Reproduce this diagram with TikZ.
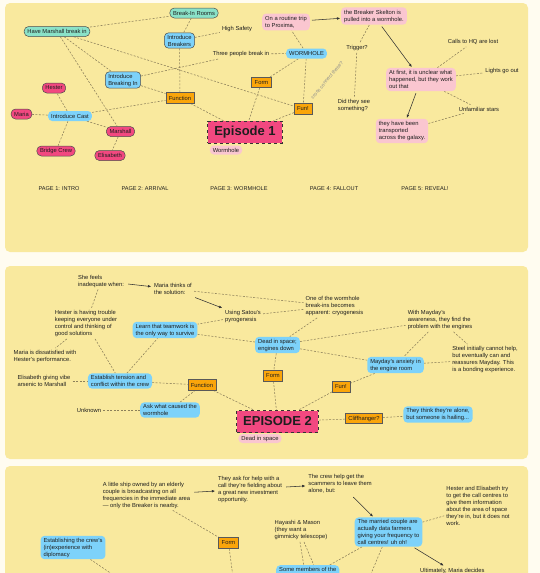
\documentclass[tikz,border=0pt]{standalone}
\usepackage{fontspec}
\setmainfont{Liberation Sans}
\usetikzlibrary{arrows.meta}
\pgfdeclarelayer{bglayer}
\pgfdeclarelayer{edgelayer}
\pgfsetlayers{bglayer,edgelayer,main}
\definecolor{bgc}{RGB}{255,252,240}
\definecolor{panelc}{RGB}{249,233,158}
\definecolor{mint}{RGB}{138,226,200}
\definecolor{skyb}{RGB}{125,210,250}
\definecolor{mag}{RGB}{242,72,128}
\definecolor{lpink}{RGB}{250,198,208}
\definecolor{orng}{RGB}{250,165,10}
\definecolor{edgec}{RGB}{140,128,90}
\definecolor{ink}{RGB}{30,30,30}
\tikzset{
 every node/.style={font=\fontsize{5.8}{7}\selectfont, text=ink},
 pill/.style={rounded corners=4.5pt, inner xsep=3.2pt, inner ysep=1.5pt, minimum height=10pt, draw=black!70, line width=0.5pt},
 mintpill/.style={pill, fill=mint},
 magpill/.style={pill, fill=mag},
 bluebox/.style={rounded corners=4pt, fill=skyb, inner xsep=3pt, inner ysep=2pt, align=left, minimum height=10pt},
 blueboxd/.style={bluebox, draw=black!70, line width=0.5pt},
 pinkbox/.style={rounded corners=4pt, fill=lpink, inner xsep=3pt, inner ysep=2.5pt, align=left},
 tagbox/.style={rounded corners=4pt, fill=lpink, inner xsep=3pt, inner ysep=1.5pt, minimum height=9pt},
 orgbox/.style={fill=orng, draw=black!65, line width=0.6pt, inner xsep=3pt, inner ysep=1.5pt, minimum height=10.5pt},
 epbox/.style={fill=mag, draw=black!80, dashed, line width=0.6pt, font=\fontsize{13}{14}\selectfont\bfseries, inner xsep=6.5pt, inner ysep=3pt, minimum height=22pt},
 txt/.style={align=left, inner sep=2pt},
 lnk/.style={draw=edgec, dash pattern=on 2pt off 1.5pt, line width=0.55pt},
 arr/.style={draw=black!80, line width=0.55pt, -{Triangle[length=3pt,width=2.4pt]}, shorten >=1pt, shorten <=2pt},
 pagelbl/.style={font=\fontsize{5.6}{6}\selectfont},
}
\begin{document}
\begin{tikzpicture}[x=1pt,y=-1pt]
\clip (0,0) rectangle (540,573);
\begin{pgfonlayer}{bglayer}
\fill[bgc] (0,0) rectangle (540,573);
\fill[panelc, rounded corners=5pt] (5,3) rectangle (528,252);
\fill[panelc, rounded corners=5pt] (5,266) rectangle (528,459);
\fill[panelc, rounded corners=5pt] (5,466) rectangle (528,620);
\end{pgfonlayer}

% ---------------- Episode 1 ----------------
\node[mintpill] (brk) at (194,13) {Break-In Rooms};
\node[mintpill] (hmb) at (57,31.5) {Have Marshall break in};
\node[blueboxd, align=center] (ibr) at (179.5,40.5) {Introduce\\Breakers};
\node[txt] (hs) at (237,29) {High Safety};
\node[txt] (tpb) at (241,54) {Three people break in};
\node[blueboxd] (ibi) at (123,80) {Introduce\\Breaking In};
\node[orgbox] (fn1) at (180,98) {Function};
\node[orgbox] (fm1) at (261.5,82.5) {Form};
\node[orgbox] (fun1) at (303,109) {Fun!};
\node[magpill] (hes) at (54,88) {Hester};
\node[magpill] (mar) at (21.5,114) {Maria};
\node[bluebox] (icast) at (70,116) {Introduce Cast};
\node[magpill] (msh) at (120.5,131.5) {Marshall};
\node[magpill] (bcr) at (56,151) {Bridge Crew};
\node[magpill] (eli) at (110,155.5) {Elisabeth};
\node[epbox] (ep1) at (245,132) {Episode 1};
\node[tagbox] (wt1) at (226,150) {Wormhole};
\node[pinkbox] (rt) at (286,22) {On a routine trip\\to Proxima,};
\node[pinkbox] (bsk) at (374,16) {the Breaker Skelton is\\pulled into a wormhole.};
\node[bluebox] (wh) at (306.5,53.5) {WORMHOLE};
\node[txt] (trg) at (357,48) {Trigger?};
\node[txt] (dts) at (354,105) {Did they see\\something?};
\node[pinkbox] (atf) at (421,79.5) {At first, it is unclear what\\happened, but they work\\out that};
\node[txt] (chq) at (473,42) {Calls to HQ are lost};
\node[txt] (lgo) at (502,71) {Lights go out};
\node[txt] (ufs) at (479,109) {Unfamiliar stars};
\node[pinkbox] (thb) at (402,131) {they have been\\transported\\across the galaxy.};
\node[rotate=50, font=\fontsize{5}{6}\selectfont, text=black!45] (ccl) at (327,80) {cross connect these?};

\node[pagelbl] (p1) at (59,189) {PAGE 1: INTRO};
\node[pagelbl] (p2) at (145,189) {PAGE 2: ARRIVAL};
\node[pagelbl] (p3) at (239,189) {PAGE 3: WORMHOLE};
\node[pagelbl] (p4) at (334,189) {PAGE 4: FALLOUT};
\node[pagelbl] (p5) at (425,189) {PAGE 5: REVEAL!};

\begin{pgfonlayer}{edgelayer}
\draw[lnk] (hmb) -- (brk);
\draw[lnk] (brk) -- (ibr);
\draw[lnk] (ibr) -- (hs);
\draw[lnk] (ibr) -- (fn1);
\draw[lnk] (hmb) -- (ibi);
\draw[lnk] (hmb) -- (msh);
\draw[lnk] (hmb) -- (fun1);
\draw[lnk] (ibi) -- (tpb);
\draw[lnk] (ibi) -- (fn1);
\draw[lnk] (tpb) -- (wh);
\draw[lnk] (icast) -- (fn1);
\draw[lnk] (icast) -- (hes);
\draw[lnk] (icast) -- (mar);
\draw[lnk] (icast) -- (msh);
\draw[lnk] (icast) -- (bcr);
\draw[lnk] (msh) -- (eli);
\draw[lnk] (fn1) -- (ep1);
\draw[lnk] (fm1) -- (ep1);
\draw[lnk] (fun1) -- (ep1);
\draw[lnk] (fm1) -- (wh);
\draw[lnk] (wh) -- (fun1);
\draw[lnk] (wh) -- (rt);
\draw[arr] (rt) -- (bsk);
\draw[lnk] (bsk) -- (trg);
\draw[lnk] (trg) -- (dts);
\draw[arr] (bsk) -- (atf);
\draw[arr] (atf) -- (thb);
\draw[lnk] (atf) -- (chq);
\draw[lnk] (atf) -- (lgo);
\draw[lnk] (atf) -- (ufs);
\draw[lnk] (thb) -- (ufs);
\end{pgfonlayer}

% ---------------- Episode 2 ----------------
\node[txt] (sfi) at (101,281) {She feels\\inadequate when:};
\node[txt] (mts) at (173,289) {Maria thinks of\\the solution:};
\node[txt] (uss) at (243,316) {Using Satou's\\pyrogenesis};
\node[txt] (hht) at (86,323.5) {Hester is having trouble\\keeping everyone under\\control and thinking of\\good solutions};
\node[bluebox] (ltw) at (165,330) {Learn that teamwork is\\the only way to survive};
\node[txt] (mid) at (45,356.5) {Maria is dissatisfied with\\Hester's performance.};
\node[txt] (egv) at (44,381) {Elisabeth giving vibe\\arsenic to Marshall};
\node[bluebox] (etc) at (120,381) {Establish tension and\\conflict within the crew};
\node[orgbox] (fn2) at (202,385) {Function};
\node[txt] (unk) at (89,410) {Unknown};
\node[bluebox] (awc) at (170,410) {Ask what caused the\\wormhole};
\node[epbox] (ep2) at (277.5,421.5) {EPISODE 2};
\node[tagbox] (ds2) at (260,438.5) {Dead in space};
\node[bluebox] (dse) at (277.5,345) {Dead in space;\\engines down};
\node[orgbox] (fm2) at (273,376) {Form};
\node[orgbox] (fun2) at (341,387) {Fun!};
\node[txt] (owb) at (334.5,306) {One of the wormhole\\break-ins becomes\\apparent: cryogenesis};
\node[txt] (wma) at (440,320) {With Mayday's\\awareness, they find the\\problem with the engines};
\node[bluebox] (mae) at (395.5,365) {Mayday's anxiety in\\the engine room};
\node[txt] (sic) at (485,359.5) {Steel initially cannot help,\\but eventually can and\\reassures Mayday. This\\is a bonding experience.};
\node[orgbox] (clf) at (364,418.5) {Cliffhanger?};
\node[bluebox] (ttt) at (438,414.5) {They think they're alone,\\but someone is hailing...};

\begin{pgfonlayer}{edgelayer}
\draw[arr] (sfi) -- (mts);
\draw[arr] (mts) -- (uss);
\draw[lnk] (sfi) -- (hht);
\draw[lnk] (mts) -- (owb);
\draw[lnk] (uss) -- (owb);
\draw[lnk] (uss) -- (ltw);
\draw[lnk] (ltw) -- (dse);
\draw[lnk] (owb) -- (dse);
\draw[lnk] (hht) -- (mid);
\draw[lnk] (hht) -- (etc);
\draw[lnk] (etc) -- (ltw);
\draw[lnk] (egv) -- (etc);
\draw[lnk] (etc) -- (fn2);
\draw[lnk] (unk) -- (awc);
\draw[lnk] (awc) -- (fn2);
\draw[lnk] (fn2) -- (ep2);
\draw[lnk] (dse) -- (fm2);
\draw[lnk] (fm2) -- (ep2);
\draw[lnk] (dse) -- (wma);
\draw[lnk] (dse) -- (mae);
\draw[lnk] (wma) -- (mae);
\draw[lnk] (wma) -- (sic);
\draw[lnk] (mae) -- (sic);
\draw[lnk] (mae) -- (fun2);
\draw[lnk] (fun2) -- (ep2);
\draw[lnk] (ep2) -- (clf);
\draw[lnk] (clf) -- (ttt);
\end{pgfonlayer}

% ---------------- Episode 3 ----------------
\node[txt] (als) at (146.5,495) {A little ship owned by an elderly\\couple is broadcasting on all\\frequencies in the immediate area\\— only the Breaker is nearby.};
\node[txt] (tah) at (250,489) {They ask for help with a\\call they're fielding about\\a great new investment\\opportunity.};
\node[txt] (tch) at (340,484) {The crew help get the\\scammers to leave them\\alone, but:};
\node[bluebox] (mcp) at (388.5,532) {The married couple are\\actually data farmers\\giving your frequency to\\call centres! uh oh!};
\node[txt] (hae) at (478,506) {Hester and Elisabeth try\\to get the call centres to\\give them information\\about the area of space\\they're in, but it does not\\work.};
\node[txt] (hym) at (301,530) {Hayashi \& Mason\\(they want a\\gimmicky telescope)};
\node[bluebox, anchor=north west, text depth=16pt] (smb) at (276,565) {Some members of the};
\node[txt, anchor=north west] (ult) at (418,566) {Ultimately, Maria decides};
\node[bluebox] (ecd) at (73,547.5) {Establishing the crew's\\(in)experience with\\diplomacy};
\node[orgbox] (fm3) at (228.5,543) {Form};
\coordinate (c1) at (236,600);
\coordinate (c2) at (150,600);
\coordinate (c3) at (360,600);

\begin{pgfonlayer}{edgelayer}
\draw[arr] (als) -- (tah);
\draw[arr] (tah) -- (tch);
\draw[arr] (tch) -- (mcp);
\draw[lnk] (mcp) -- (hae);
\draw[lnk] (mcp) -- (smb);
\draw[lnk] ([xshift=-1pt]hym.south) -- ([xshift=-4pt]smb.north);
\draw[lnk] ([xshift=3pt]hym.south) -- ([xshift=6pt]smb.north);
\draw[arr] (mcp) -- (ult);
\draw[lnk] (als) -- (fm3);
\draw[lnk] (fm3) -- (c1);
\draw[lnk] (ecd) -- (c2);
\draw[lnk] (mcp) -- (c3);
\end{pgfonlayer}
\end{tikzpicture}
\end{document}
